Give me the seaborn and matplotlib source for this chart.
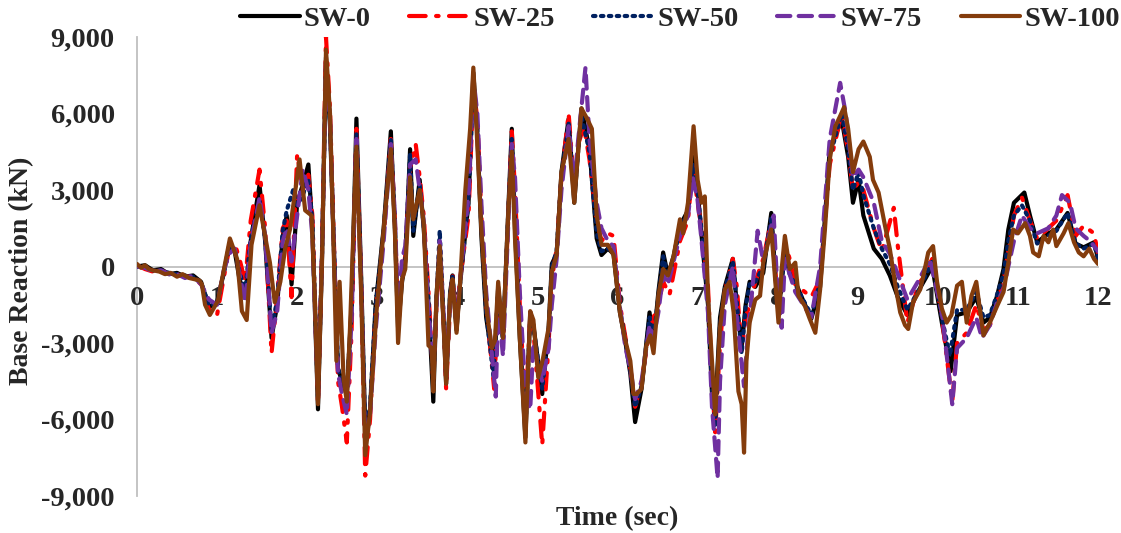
import matplotlib
matplotlib.use("Agg")
import matplotlib.pyplot as plt
import matplotlib.ticker as mticker
import seaborn as sns
import pandas as pd

# (time in sec, base reaction in kN)
sw0 = [(0.00, 0), (0.10, 50), (0.20, -150), (0.30, -100), (0.40, -300), (0.50, -250),
       (0.60, -400), (0.70, -350), (0.80, -600), (0.90, -1600), (1.00, -1400), (1.08, -300),
       (1.15, 800), (1.22, 600), (1.28, -500), (1.35, -1200), (1.42, 1000), (1.53, 3200),
       (1.60, 1000), (1.68, -2800), (1.75, -1500), (1.82, 1200), (1.87, 2000), (1.93, -700),
       (2.00, 2500), (2.07, 3200), (2.14, 4000), (2.19, 1500), (2.26, -5600), (2.31, 300),
       (2.36, 8200), (2.41, 5500), (2.46, 600), (2.51, -4000), (2.56, -4500), (2.62, -5000),
       (2.68, -1500), (2.74, 5800), (2.80, -500), (2.85, -6300), (2.91, -5600), (2.98, -1500),
       (3.08, 1500), (3.17, 5300), (3.22, 1500), (3.26, -2400), (3.31, -600), (3.35, 200),
       (3.41, 4600), (3.45, 1200), (3.53, 3400), (3.58, 1500), (3.64, -1500), (3.70, -5300),
       (3.74, -1200), (3.78, 800), (3.83, -2300), (3.86, -4600), (3.91, -1000), (3.94, -350),
       (3.99, -2500), (4.03, -800), (4.14, 2500), (4.20, 7600), (4.25, 5200), (4.30, 1200),
       (4.36, -2000), (4.46, -4100), (4.51, -800), (4.57, -2800), (4.64, 2500), (4.68, 5400),
       (4.72, 1500), (4.78, -2800), (4.85, -6700), (4.91, -1800), (4.95, -2300), (5.06, -5000),
       (5.14, -2400), (5.18, 100), (5.24, 500), (5.30, 3700), (5.39, 5800), (5.46, 2500),
       (5.51, 4600), (5.55, 6200), (5.65, 4600), (5.74, 1100), (5.80, 450), (5.88, 700),
       (5.95, 500), (6.03, -1800), (6.10, -3000), (6.16, -4200), (6.22, -6100), (6.30, -4800),
       (6.40, -1800), (6.45, -3000), (6.51, -1000), (6.57, 550), (6.63, -350), (6.70, 400),
       (6.78, 1600), (6.88, 2200), (6.94, 4300), (7.00, 3000), (7.05, 1200), (7.13, -1500),
       (7.18, -5000), (7.22, -5700), (7.28, -2000), (7.34, -800), (7.44, 300), (7.49, -1500),
       (7.55, -3200), (7.60, -1500), (7.65, -600), (7.72, -800), (7.82, -250), (7.92, 2100),
       (7.97, -300), (8.01, -1800), (8.09, 600), (8.15, -200), (8.22, -600), (8.30, -1200),
       (8.42, -2050), (8.53, -800), (8.65, 4600), (8.80, 5750), (8.88, 4300), (8.94, 2500),
       (9.01, 3400), (9.07, 2000), (9.20, 700), (9.30, 300), (9.40, -350), (9.50, -1200),
       (9.62, -1900), (9.75, -1000), (9.93, 0), (10.05, -2200), (10.16, -4100), (10.24, -1900),
       (10.36, -1800), (10.48, -1200), (10.57, -2200), (10.65, -2000), (10.74, -1150),
       (10.82, -100), (10.88, 1450), (10.95, 2500), (11.08, 2900), (11.15, 2000), (11.24, 950),
       (11.38, 1300), (11.48, 1450), (11.62, 2100), (11.72, 900), (11.82, 750), (11.95, 950),
       (12.00, 300)]

sw25 = [(0.00, 50), (0.10, -100), (0.20, -200), (0.30, -150), (0.40, -300), (0.50, -300),
        (0.60, -400), (0.70, -400), (0.80, -700), (0.90, -1700), (1.00, -1900), (1.08, -500),
        (1.15, 700), (1.22, 900), (1.28, 300), (1.35, -600), (1.42, 1800), (1.53, 3800),
        (1.60, 1500), (1.68, -3400), (1.75, -1200), (1.82, 1500), (1.87, 1800), (1.93, -1200),
        (2.00, 4400), (2.07, 3000), (2.14, 3600), (2.19, 2000), (2.26, -5400), (2.31, 500),
        (2.36, 9000), (2.41, 6200), (2.46, 800), (2.51, -4500), (2.56, -5500), (2.62, -6900),
        (2.68, -2500), (2.74, 5400), (2.80, -800), (2.85, -8200), (2.91, -6000), (2.98, -1800),
        (3.08, 1200), (3.17, 5000), (3.22, 1800), (3.26, -2000), (3.31, -300), (3.35, 400),
        (3.41, 3800), (3.48, 4800), (3.53, 3500), (3.58, 2000), (3.64, -1000), (3.70, -4500),
        (3.74, -1500), (3.78, 700), (3.83, -2200), (3.86, -4800), (3.91, -1500), (3.94, -300),
        (3.99, -2200), (4.03, -600), (4.14, 2000), (4.20, 7000), (4.25, 5800), (4.30, 2000),
        (4.36, -1500), (4.46, -4800), (4.51, -1200), (4.57, -3000), (4.64, 2200), (4.68, 5300),
        (4.72, 3000), (4.78, -1500), (4.85, -5700), (4.91, -2000), (4.95, -2500), (5.06, -7000),
        (5.14, -3000), (5.18, -500), (5.24, 700), (5.30, 3500), (5.39, 6000), (5.46, 3000),
        (5.51, 4800), (5.58, 5500), (5.65, 4200), (5.74, 1800), (5.80, 1000), (5.88, 1300),
        (5.95, 1200), (6.03, -1500), (6.10, -2800), (6.16, -4000), (6.22, -5500), (6.30, -4500),
        (6.40, -2500), (6.45, -2000), (6.51, -1500), (6.57, -600), (6.65, -1100), (6.70, -300),
        (6.78, 1000), (6.88, 1800), (6.94, 4000), (7.00, 2500), (7.05, 1500), (7.13, -800),
        (7.18, -4500), (7.22, -6500), (7.28, -3000), (7.34, -1000), (7.44, 300), (7.49, -800),
        (7.55, -3300), (7.60, -2000), (7.65, -1500), (7.72, -600), (7.82, 300), (7.92, 1800),
        (7.97, -200), (8.01, -1500), (8.09, 900), (8.15, 300), (8.22, -700), (8.30, -900),
        (8.42, -1200), (8.53, -500), (8.65, 4000), (8.80, 6000), (8.88, 4500), (8.94, 3000),
        (9.01, 3300), (9.07, 3000), (9.20, 1500), (9.30, 600), (9.45, 2300), (9.50, 800),
        (9.62, -2200), (9.75, -800), (9.93, 300), (10.05, -2000), (10.18, -5300), (10.24, -3000),
        (10.36, -2600), (10.48, -1500), (10.57, -2500), (10.65, -2300), (10.74, -1400),
        (10.82, -600), (10.88, 600), (10.95, 2000), (11.05, 2700), (11.15, 1800), (11.24, 1100),
        (11.38, 1500), (11.48, 1800), (11.62, 2800), (11.72, 1200), (11.82, 1600), (11.95, 1300),
        (12.00, 500)]

sw50 = [(0.00, 0), (0.10, 0), (0.20, -150), (0.30, -150), (0.40, -250), (0.50, -300),
        (0.60, -350), (0.70, -400), (0.80, -650), (0.90, -1500), (1.00, -1500), (1.08, -300),
        (1.15, 700), (1.22, 700), (1.28, -200), (1.35, -1000), (1.42, 1100), (1.53, 2600),
        (1.60, 1100), (1.68, -2500), (1.75, -1300), (1.82, 1400), (1.87, 2200), (1.95, 3000),
        (2.00, 2400), (2.07, 2800), (2.14, 3400), (2.19, 1800), (2.26, -5200), (2.31, 400),
        (2.36, 8000), (2.41, 5700), (2.46, 700), (2.51, -4000), (2.56, -4600), (2.62, -4800),
        (2.68, -1800), (2.74, 5200), (2.80, -700), (2.85, -6500), (2.91, -5500), (2.98, -1600),
        (3.08, 1400), (3.17, 5000), (3.22, 1700), (3.26, -2200), (3.31, -400), (3.35, 300),
        (3.41, 4400), (3.45, 1400), (3.53, 3200), (3.58, 1600), (3.64, -1300), (3.70, -4600),
        (3.74, -1300), (3.78, 1400), (3.83, -2100), (3.86, -4400), (3.91, -1100), (3.94, -400),
        (3.99, -2400), (4.03, -800), (4.14, 2600), (4.20, 7300), (4.25, 5400), (4.30, 1500),
        (4.36, -1800), (4.45, -4300), (4.51, -900), (4.57, -2900), (4.64, 2400), (4.68, 5000),
        (4.72, 1800), (4.78, -2500), (4.85, -6400), (4.91, -2000), (4.95, -2400), (5.06, -4800),
        (5.14, -2600), (5.18, 0), (5.24, 600), (5.30, 3600), (5.39, 5600), (5.46, 2700),
        (5.51, 4600), (5.55, 5900), (5.65, 4500), (5.74, 1300), (5.80, 600), (5.88, 700),
        (5.95, 600), (6.03, -1700), (6.10, -2900), (6.16, -4100), (6.22, -5500), (6.30, -4700),
        (6.40, -2000), (6.45, -2800), (6.51, -1200), (6.57, 400), (6.63, -400), (6.70, 300),
        (6.78, 1500), (6.88, 2100), (6.94, 4000), (7.00, 2900), (7.05, 1400), (7.13, -1300),
        (7.18, -4800), (7.22, -6300), (7.28, -2300), (7.34, -900), (7.44, 200), (7.49, -1400),
        (7.55, -3400), (7.60, -1600), (7.65, -700), (7.72, -600), (7.82, 0), (7.92, 1900),
        (7.97, -300), (8.01, -1600), (8.09, 500), (8.15, -300), (8.22, -700), (8.30, -1200),
        (8.42, -1900), (8.53, -600), (8.65, 4300), (8.80, 6000), (8.88, 4600), (8.94, 3000),
        (9.01, 3700), (9.07, 2800), (9.20, 1500), (9.30, 700), (9.40, 100), (9.50, -800),
        (9.62, -1700), (9.75, -1000), (9.93, 200), (10.05, -2000), (10.15, -3500), (10.24, -1700),
        (10.36, -1700), (10.48, -1000), (10.57, -2000), (10.65, -1900), (10.74, -1100),
        (10.82, -300), (10.88, 1000), (10.95, 2000), (11.05, 2400), (11.15, 1800), (11.24, 900),
        (11.38, 1200), (11.48, 1400), (11.62, 2100), (11.72, 900), (11.82, 700), (11.95, 900),
        (12.00, 300)]

sw75 = [(0.00, 0), (0.10, -50), (0.20, -200), (0.30, -150), (0.40, -300), (0.50, -300),
        (0.60, -450), (0.70, -350), (0.80, -700), (0.90, -1300), (1.00, -1500), (1.08, -200),
        (1.15, 500), (1.22, 700), (1.28, -300), (1.35, -1400), (1.42, 900), (1.53, 2700),
        (1.60, 1200), (1.68, -2600), (1.75, -1800), (1.82, 1000), (1.87, 1500), (1.93, 200),
        (2.00, 2000), (2.07, 3800), (2.14, 3000), (2.19, 1200), (2.26, -5000), (2.31, 400),
        (2.36, 8000), (2.41, 5800), (2.46, 500), (2.51, -4200), (2.56, -5000), (2.62, -5800),
        (2.68, -2000), (2.74, 5000), (2.80, -900), (2.85, -7000), (2.91, -5800), (2.98, -2500),
        (3.08, 1000), (3.17, 4800), (3.22, 2000), (3.26, -1800), (3.31, 300), (3.35, 800),
        (3.41, 4000), (3.48, 4200), (3.53, 3000), (3.58, 1800), (3.64, -1800), (3.70, -4000),
        (3.74, -1500), (3.78, 1000), (3.83, -2000), (3.86, -4300), (3.91, -1300), (3.94, -500),
        (3.99, -2300), (4.03, -700), (4.14, 2800), (4.20, 7400), (4.25, 6000), (4.30, 2500),
        (4.36, -1000), (4.48, -5100), (4.51, -1500), (4.57, -3500), (4.64, 2000), (4.68, 4800),
        (4.72, 3500), (4.78, -1000), (4.85, -5000), (4.91, -5600), (4.95, -3000), (5.06, -4500),
        (5.14, -3200), (5.18, -1500), (5.24, 300), (5.30, 3000), (5.39, 5500), (5.46, 3200),
        (5.51, 5000), (5.60, 7800), (5.65, 5000), (5.74, 2500), (5.80, 1500), (5.88, 1000),
        (5.95, 800), (6.03, -1600), (6.10, -3200), (6.16, -4000), (6.22, -5200), (6.30, -4500),
        (6.40, -2300), (6.45, -2800), (6.51, -1800), (6.57, -300), (6.63, -700), (6.70, 200),
        (6.78, 1200), (6.88, 2000), (6.94, 3500), (7.00, 2600), (7.05, 1000), (7.13, -1800),
        (7.18, -5500), (7.25, -8300), (7.28, -4500), (7.34, -1500), (7.44, 0), (7.49, -2000),
        (7.58, -4700), (7.62, -3000), (7.68, -1000), (7.75, 1400), (7.82, 200), (7.95, 2000),
        (7.99, -500), (8.05, -2400), (8.09, 300), (8.15, -300), (8.22, -1000), (8.30, -1400),
        (8.42, -2000), (8.53, 0), (8.65, 5000), (8.78, 7200), (8.85, 6000), (8.94, 3500),
        (9.01, 3800), (9.07, 3500), (9.20, 2500), (9.30, 1000), (9.40, 500), (9.50, -300),
        (9.62, -1300), (9.75, -600), (9.90, 300), (10.05, -1800), (10.18, -5400), (10.24, -3200),
        (10.36, -2800), (10.48, -2000), (10.55, -2800), (10.65, -2300), (10.74, -1400),
        (10.82, -900), (10.88, 0), (10.95, 1000), (11.05, 2000), (11.15, 1500), (11.24, 1300),
        (11.38, 1500), (11.48, 2000), (11.55, 2800), (11.65, 2500), (11.72, 1500), (11.82, 1200),
        (11.90, 1000), (12.00, 600)]

sw100 = [(0.00, 100), (0.05, -50), (0.10, 50), (0.15, -100), (0.20, -150), (0.28, -200),
         (0.35, -300), (0.42, -250), (0.50, -400), (0.57, -300), (0.65, -450), (0.72, -500),
         (0.78, -550), (0.81, -700), (0.85, -1500), (0.91, -1900), (1.01, -1350), (1.08, -200),
         (1.16, 1100), (1.25, 300), (1.31, -1750), (1.37, -2100), (1.43, 850), (1.53, 2400),
         (1.66, 150), (1.72, -1400), (1.79, -600), (1.85, 700), (1.91, 1450), (2.03, 4200),
         (2.10, 2200), (2.18, 2000), (2.22, -1150), (2.26, -5400), (2.31, 150), (2.36, 8500),
         (2.41, 6000), (2.45, 1450), (2.49, -3700), (2.53, -600), (2.58, -4400), (2.62, -5300),
         (2.66, -2400), (2.74, 4700), (2.80, -1150), (2.85, -7400), (2.91, -5700), (2.99, -1800),
         (3.08, 1450), (3.17, 4600), (3.22, 1450), (3.26, -3000), (3.31, -500), (3.35, -100),
         (3.41, 3500), (3.45, 1850), (3.53, 3000), (3.58, 1700), (3.64, -3100), (3.68, -3200),
         (3.70, -4900), (3.74, -1150), (3.78, 800), (3.83, -2400), (3.86, -4600), (3.91, -1150),
         (3.94, -500), (3.99, -2600), (4.03, -900), (4.10, 3000), (4.16, 5400), (4.20, 7800),
         (4.24, 5400), (4.30, 1450), (4.37, -1800), (4.43, -3200), (4.47, -2900), (4.51, -600),
         (4.57, -2800), (4.64, 2400), (4.68, 4500), (4.72, 1100), (4.78, -2800), (4.85, -6900),
         (4.91, -1750), (4.95, -2100), (5.01, -4350), (5.07, -3600), (5.14, -2400), (5.18, -200),
         (5.24, 450), (5.30, 3700), (5.39, 5000), (5.46, 2500), (5.51, 4600), (5.55, 6200),
         (5.62, 5800), (5.68, 5400), (5.74, 2000), (5.80, 850), (5.88, 850), (5.95, 450),
         (6.03, -1800), (6.09, -2800), (6.16, -3700), (6.20, -5000), (6.24, -5000), (6.30, -4800),
         (6.36, -3100), (6.41, -2700), (6.45, -3400), (6.51, -1150), (6.57, -100), (6.63, -350),
         (6.70, 400), (6.78, 1850), (6.82, 1300), (6.88, 2500), (6.95, 5500), (7.00, 3400),
         (7.05, 2500), (7.09, 2750), (7.13, -1150), (7.18, -3700), (7.22, -5800), (7.28, -2400),
         (7.34, -900), (7.40, -600), (7.45, -1800), (7.51, -4900), (7.55, -5400), (7.58, -7300),
         (7.61, -3700), (7.65, -2200), (7.72, -1300), (7.78, -1150), (7.82, 150), (7.92, 1450),
         (7.97, -600), (8.01, -2200), (8.05, -100), (8.09, 1200), (8.15, -100), (8.22, 150),
         (8.26, -1150), (8.34, -1550), (8.40, -2050), (8.47, -2600), (8.53, -900), (8.59, 1450),
         (8.65, 4200), (8.72, 5500), (8.78, 5900), (8.83, 6250), (8.88, 5400), (8.94, 3700),
         (9.01, 4600), (9.07, 4900), (9.15, 4300), (9.19, 3400), (9.26, 2900), (9.34, 1600),
         (9.40, 700), (9.47, -750), (9.53, -1800), (9.59, -2300), (9.63, -2450), (9.69, -1400),
         (9.78, -900), (9.82, -350), (9.88, 550), (9.94, 800), (9.99, -600), (10.05, -1650),
         (10.11, -2200), (10.17, -1900), (10.24, -750), (10.30, -600), (10.36, -2200),
         (10.42, -1150), (10.48, -600), (10.53, -1800), (10.57, -2700), (10.65, -2200),
         (10.74, -1550), (10.82, -1000), (10.88, 150), (10.94, 1450), (11.00, 1300),
         (11.09, 1700), (11.15, 1200), (11.19, 550), (11.26, 400), (11.32, 1200), (11.38, 950),
         (11.44, 1450), (11.48, 800), (11.57, 1300), (11.63, 1700), (11.70, 950), (11.76, 550),
         (11.82, 400), (11.89, 700), (11.95, 300), (12.00, 100)]

labels = ['SW-0', 'SW-25', 'SW-50', 'SW-75', 'SW-100']
colors = ['#000000', '#FF0000', '#002060', '#7030A0', '#843C0C']
styles = ['-', (0, (4, 2.5, 0.6, 2.5)), (0, (0.6, 1.3)), (0, (3.2, 2)), '-']

sns.set_style('white')
plt.rcParams['font.family'] = ['Liberation Serif', 'DejaVu Serif']
plt.rcParams['font.weight'] = 'bold'

fig = plt.figure(figsize=(11.21, 5.33), dpi=100)
ax = fig.add_axes([0.1222, 0.0694, 0.8573, 0.8612])

for name, pts, c, ls in zip(labels, [sw0, sw25, sw50, sw75, sw100], colors, styles):
    df = pd.DataFrame(pts, columns=['t', 'v'])
    sns.lineplot(data=df, x='t', y='v', ax=ax, color=c, linestyle=ls, lw=3.0,
                 estimator=None, sort=False, label=name,
                 dash_capstyle='round', solid_capstyle='round', solid_joinstyle='round')

ax.set_xlim(0, 12)
ax.set_ylim(-9000, 9000)
ax.set_xticks(range(0, 13))
ax.set_yticks(range(-9000, 9001, 3000))
ax.yaxis.set_major_formatter(mticker.FuncFormatter(lambda v, p: f'{int(v):,}'))

for s in ['top', 'right']:
    ax.spines[s].set_visible(False)
ax.spines['bottom'].set_position(('data', 0))
for s in ['left', 'bottom']:
    ax.spines[s].set_color('#bfbfbf')
    ax.spines[s].set_linewidth(1.3)
    ax.spines[s].set_zorder(0)

ax.tick_params(axis='y', length=0, pad=16, labelsize=20.5)
ax.tick_params(axis='x', length=0, pad=14, labelsize=20.5)
for lab in ax.get_xticklabels() + ax.get_yticklabels():
    lab.set_fontweight('bold')

ax.set_xlabel('Time (sec)', fontsize=20, fontweight='bold')
ax.set_ylabel('Base Reaction (kN)', fontsize=20, fontweight='bold')
ax.xaxis.set_label_coords(0.5, -0.05)
ax.xaxis.label.set_va('center')
ax.yaxis.set_label_coords(-0.1197, 0.49)
ax.yaxis.label.set_va('center')

ax.legend(loc='center', bbox_to_anchor=(0.565, 1.04), ncol=5, frameon=False,
          handlelength=2.1, handletextpad=0.15, columnspacing=1.35,
          borderaxespad=0, prop={'weight': 'bold', 'size': 20.5})

fig.savefig('out.png', dpi=100)
